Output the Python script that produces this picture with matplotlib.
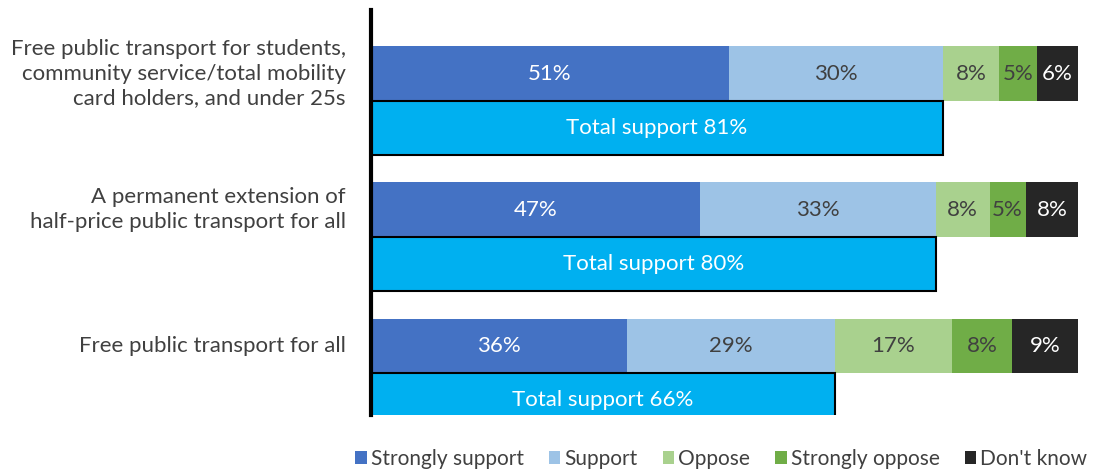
import numpy as np
import matplotlib
matplotlib.use("Agg")
import matplotlib.pyplot as plt
from matplotlib.patches import Patch

plt.rcParams["font.family"] = ["Lato", "DejaVu Sans"]

# Data (estimated unrounded shares, labels shown rounded)
categories = [
    "Free public transport for students,\ncommunity service/total mobility\ncard holders, and under 25s",
    "A permanent extension of\nhalf-price public transport for all",
    "Free public transport for all",
]
series = ["Strongly support", "Support", "Oppose", "Strongly oppose", "Don't know"]
strongly_support = [50.6, 46.6, 36.2]
support = [30.3, 33.3, 29.4]
oppose = [7.9, 7.6, 16.6]
strongly_oppose = [5.4, 5.1, 8.4]
dont_know = [5.8, 7.6, 9.4]

colors = ["#4472C4", "#9DC3E6", "#A9D18E", "#70AD47", "#262626"]
text_colors = ["white", "#404040", "#404040", "#404040", "white"]

values = np.array([strongly_support, support, oppose, strongly_oppose, dont_know])
total_support = values[0] + values[1]

fig = plt.figure(figsize=(11.02, 4.72), dpi=100)
ax = fig.add_axes([371 / 1102, 1 - 415 / 472, (1078 - 371) / 1102, 405 / 472])

n = len(categories)
idx = np.arange(n)
h = 0.4
y_stack = idx - h / 2
y_total = idx + h / 2

fs = 16

left = np.zeros(n)
for k in range(len(series)):
    ax.barh(y_stack, values[k], left=left, height=h, color=colors[k],
            edgecolor="none", label=series[k])
    for i in range(n):
        ax.text(left[i] + values[k][i] / 2, y_stack[i], f"{values[k][i]:.0f}%",
                ha="center", va="center", fontsize=fs, color=text_colors[k])
    left += values[k]

ax.barh(y_total, total_support, height=h, color="#00B0F0",
        edgecolor="black", linewidth=1.5)
for i in range(n):
    ax.text(total_support[i] / 2, y_total[i], f"Total support {total_support[i]:.0f}%",
            ha="center", va="center", fontsize=fs, color="white")

for i in range(n):
    ax.text(-3.6, y_stack[i], categories[i], ha="right", va="center",
            fontsize=fs, color="#404040", linespacing=1.3)

ax.set_xlim(0, 100)
ax.set_ylim(2 + 42 / 136.5, -91 / 136.5)
ax.set_xticks([])
ax.set_yticks([])
for s in ["top", "right", "bottom"]:
    ax.spines[s].set_visible(False)
ax.spines["left"].set_linewidth(3)
ax.spines["left"].set_color("black")

handles = [Patch(facecolor=c, edgecolor="none") for c in colors]
fig.legend(handles, series, loc="center left", bbox_to_anchor=(347 / 1102, 1 - 459 / 472),
           ncol=5, frameon=False, fontsize=15, handlelength=0.55, handleheight=0.55,
           handletextpad=0.2, columnspacing=1.2, labelcolor="#404040",
           borderaxespad=0)

fig.savefig("out.png", dpi=100)
